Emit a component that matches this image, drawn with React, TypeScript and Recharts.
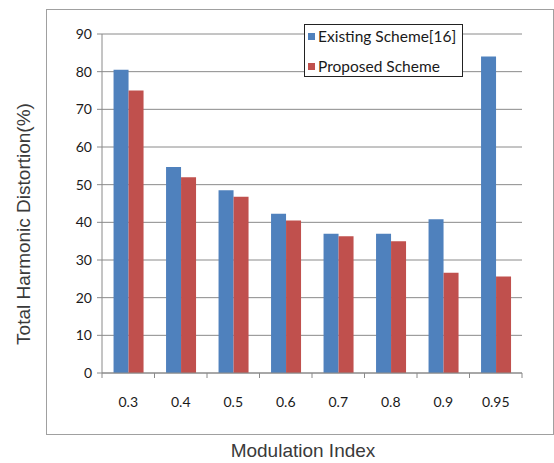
import { Bar, BarChart, CartesianGrid, Legend, XAxis, YAxis } from 'recharts'

const indices = ['0.3', '0.4', '0.5', '0.6', '0.7', '0.8', '0.9', '0.95']
const existing = [80.5, 54.7, 48.5, 42.3, 37, 37, 40.8, 84]
const proposed = [75, 52, 46.8, 40.5, 36.3, 35, 26.6, 25.6]
const yTicks = [0, 10, 20, 30, 40, 50, 60, 70, 80, 90]

const data = indices.map((m, i) => ({ m, existing: existing[i], proposed: proposed[i] }))

const AXIS = '#8a8a8a'
const TICK_FONT = 'Lato, "Open Sans", sans-serif'
const TITLE_FONT = '"Liberation Sans", Arial, sans-serif'

function XTick(props: any) {
  const { x, y, payload, index } = props
  const half = 26.25
  return (
    <g>
      <line x1={x - half} x2={x - half} y1={y} y2={y + 5} stroke={AXIS} />
      {index === indices.length - 1 && (
        <line x1={x + half} x2={x + half} y1={y} y2={y + 5} stroke={AXIS} />
      )}
      <text x={x} y={y + 34} textAnchor="middle" fontSize={14} fontFamily={TICK_FONT} fill="#1a1a1a">
        {payload.value}
      </text>
    </g>
  )
}

function LegendBox(props: any) {
  const items = props.payload || []
  return (
    <div
      style={{
        border: '1px solid #222',
        background: '#fff',
        width: 157,
        height: 51,
        fontFamily: TICK_FONT,
        fontSize: 15.5,
        color: '#1a1a1a',
        boxSizing: 'content-box'
      }}
    >
      {items.map((it: any, i: number) => (
        <div key={it.value} style={{ display: 'flex', alignItems: 'center', height: 18, marginTop: i === 0 ? 2 : 12, paddingLeft: 3, whiteSpace: 'nowrap' }}>
          <span style={{ display: 'inline-block', width: 7, height: 7, background: it.color, marginRight: 3 }} />
          <span>{it.value}</span>
        </div>
      ))}
    </div>
  )
}

export default function App() {
  return (
    <div style={{ position: 'absolute', left: 0, top: 0, width: 554, height: 463, background: '#fff' }}>
      <div
        style={{
          position: 'absolute',
          left: 46,
          top: 9,
          width: 506,
          height: 424,
          border: '1px solid #a0a0a0'
        }}
      />
      <div style={{ position: 'absolute', left: 0, top: 0 }}>
        <BarChart
          width={554}
          height={463}
          data={data}
          margin={{ top: 34, right: 32, bottom: 0, left: 0 }}
          barCategoryGap="22%"
          barGap={0}
        >
          <CartesianGrid vertical={false} stroke={AXIS} />
          <XAxis
            dataKey="m"
            height={90}
            tickLine={false}
            tickSize={0}
            tickMargin={0}
            axisLine={{ stroke: AXIS }}
            tick={<XTick />}
            interval={0}
            label={({ viewBox }: any) => (
              <text
                x={viewBox.x + viewBox.width / 2 - 9}
                y={457}
                textAnchor="middle"
                fontSize={19}
                fontFamily={TITLE_FONT}
                fill="#3a3a3a"
              >
                Modulation Index
              </text>
            )}
          />
          <YAxis
            width={102}
            domain={[0, 90]}
            ticks={yTicks}
            interval={0}
            tickSize={5}
            tickMargin={5}
            tickLine={{ stroke: AXIS }}
            axisLine={{ stroke: AXIS }}
            tick={{ fontSize: 14, fontFamily: TICK_FONT, fill: '#1a1a1a' }}
            label={() => (
              <text
                x={30}
                y={224}
                transform="rotate(-90 30 224)"
                textAnchor="middle"
                fontSize={19}
                fontFamily={TITLE_FONT}
                fill="#3a3a3a"
              >
                Total Harmonic Distortion(%)
              </text>
            )}
          />
          <Legend
            layout="vertical"
            verticalAlign="middle"
            align="center"
            wrapperStyle={{ left: 304, top: 24, width: 159 }}
            content={<LegendBox />}
          />
          <Bar dataKey="existing" name="Existing Scheme[16]" fill="#4F81BD" isAnimationActive={false} />
          <Bar dataKey="proposed" name="Proposed Scheme" fill="#C0504D" isAnimationActive={false} />
        </BarChart>
      </div>
    </div>
  )
}
